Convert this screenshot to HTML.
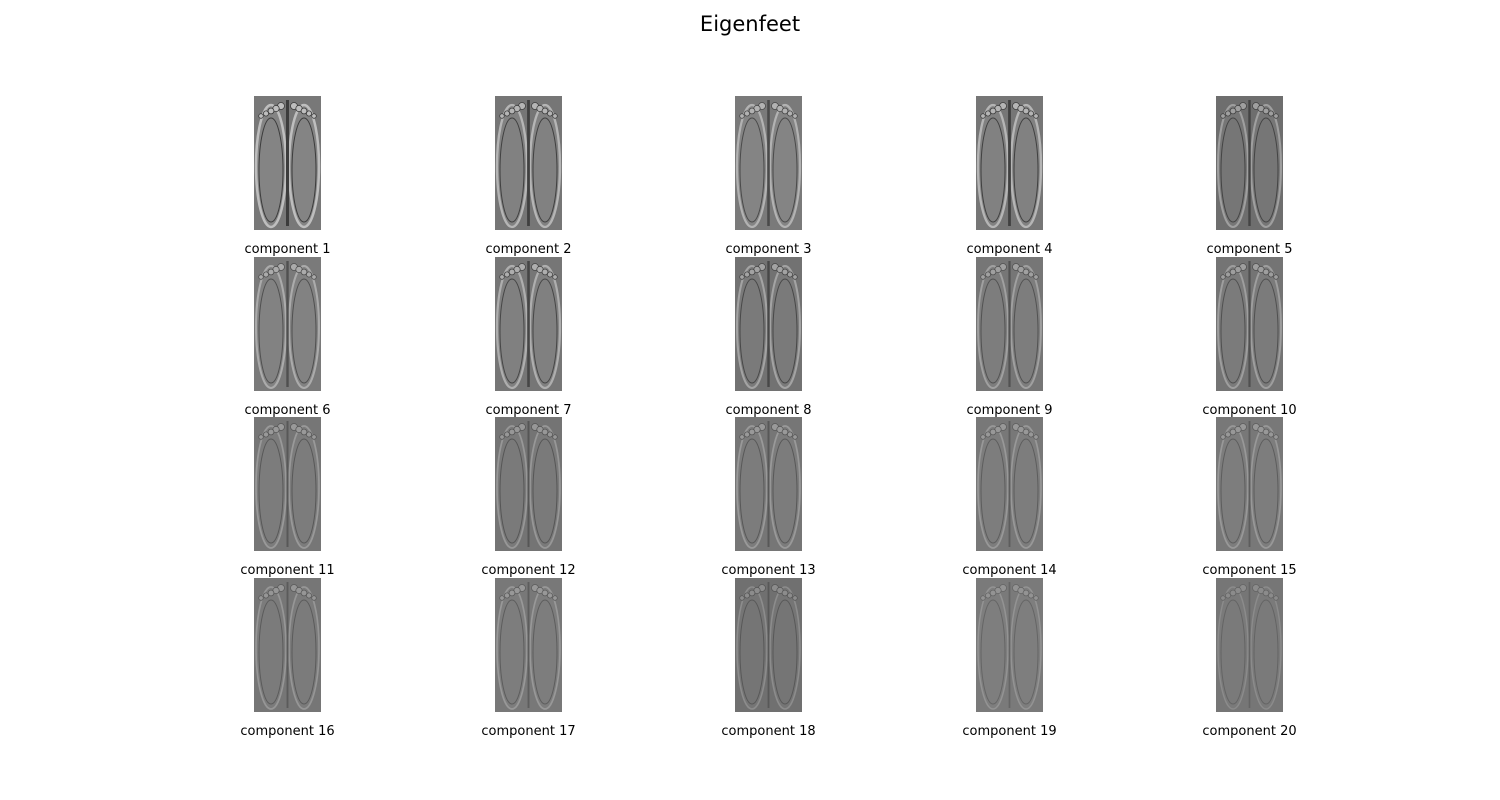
<!DOCTYPE html>
<html><head><meta charset="utf-8">
<style>
html,body{margin:0;padding:0;background:#fff;}
#wrap{position:relative;width:1500px;height:800px;overflow:hidden;font-family:"DejaVu Sans","Liberation Sans",sans-serif;}
#title{position:absolute;left:0;width:1500px;top:12px;text-align:center;font-size:21px;color:#000;}
.lbl{position:absolute;width:160px;text-align:center;font-size:13px;color:#000;}
svg{position:absolute;}
</style></head>
<body>
<div id="wrap">
<div id="title">Eigenfeet</div>
</div>
<script>
const componentLabels = ["component 1","component 2","component 3","component 4","component 5","component 6","component 7","component 8","component 9","component 10","component 11","component 12","component 13","component 14","component 15","component 16","component 17","component 18","component 19","component 20"];
const bgGray = [120,118,122,118,110,122,118,114,118,116,118,116,118,120,120,118,120,112,122,118];
const contrast = [1.0,0.9,0.8,0.9,0.7,0.7,0.8,0.7,0.6,0.6,0.5,0.5,0.5,0.45,0.45,0.45,0.45,0.4,0.35,0.3];
const colX = [254,495,735,976,1216];
const rowY = [96,257,417,578];
const W = 67, H = 134;
const wrap = document.getElementById('wrap');
const NS = 'http://www.w3.org/2000/svg';
function g(v){v=Math.max(0,Math.min(255,Math.round(v)));return 'rgb('+v+','+v+','+v+')';}
componentLabels.forEach((lab,i)=>{
  const r = Math.floor(i/5), c = i%5;
  const x = colX[c], y = rowY[r], b = bgGray[i], k = contrast[i];
  const s = document.createElementNS(NS,'svg');
  
  
  s.setAttribute('width',W);s.setAttribute('height',H);
  s.style.left=x+'px';s.style.top=y+'px';
  const lite = g(b+70*k), dark = g(b-60*k), mid = g(b+12*k);
  let html = '<rect width="'+W+'" height="'+H+'" fill="'+g(b)+'"/>';
  [[17,0],[50,1]].forEach(([cx,side])=>{
    html += '<ellipse cx="'+cx+'" cy="70" rx="15" ry="61" fill="'+mid+'" stroke="'+lite+'" stroke-width="'+(1+1.5*k)+'"/>';
    html += '<ellipse cx="'+cx+'" cy="74" rx="12" ry="52" fill="none" stroke="'+dark+'" stroke-width="1"/>';
    for(let t=0;t<5;t++){
      const tx = side? cx-10+t*5 : cx+10-t*5;
      html += '<circle cx="'+tx+'" cy="'+(10+t*2.5)+'" r="'+(3.5-t*0.3)+'" fill="'+lite+'" stroke="'+dark+'" stroke-width="0.8"/>';
    }
  });
  html += '<line x1="33.5" y1="4" x2="33.5" y2="130" stroke="'+dark+'" stroke-width="'+(1+2*k)+'"/>';
  s.innerHTML = html;
  wrap.appendChild(s);
  const d = document.createElement('div');
  d.className='lbl';
  
  
  d.textContent = lab;
  d.style.left=(x+W/2-80)+'px';
  d.style.top=(y+H+12)+'px';
  wrap.appendChild(d);
});
</script>
</body></html>
